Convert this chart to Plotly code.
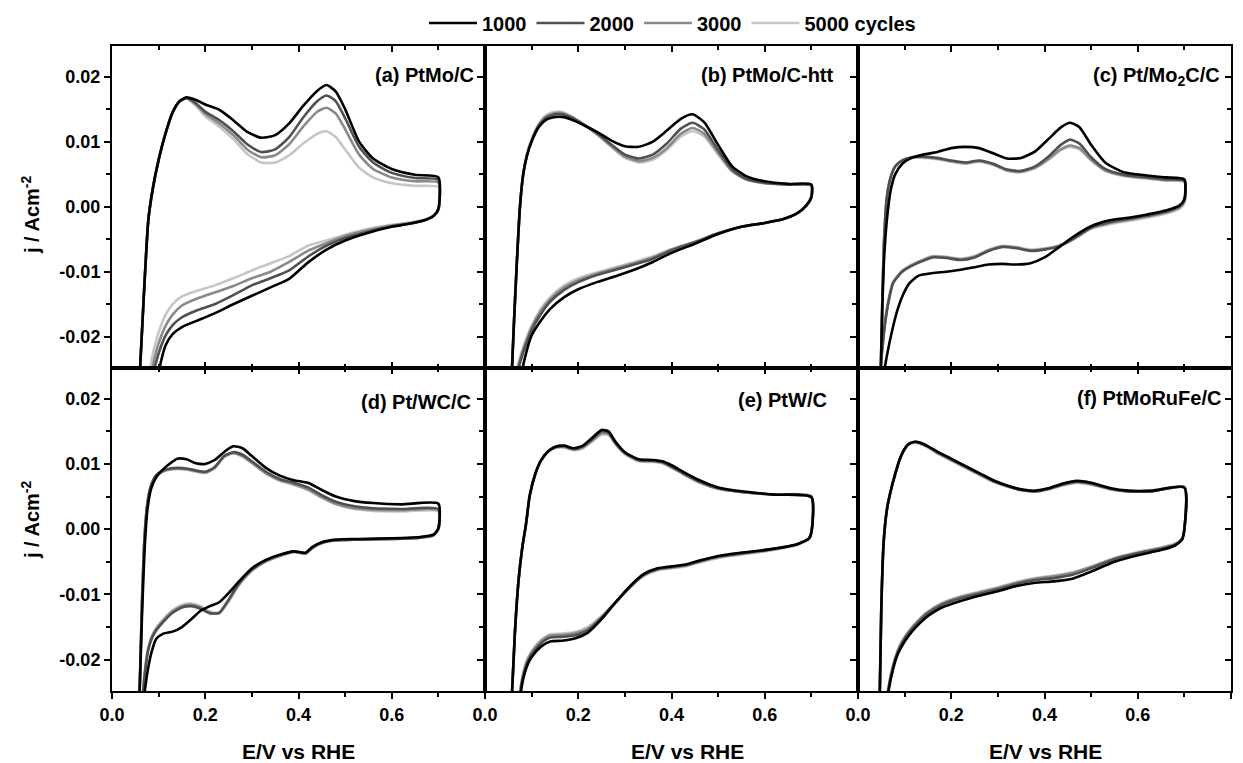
import plotly.graph_objects as go

# ---------------- data (E / V vs RHE, j / A cm^-2) ----------------
CYCLE_NAMES = ["1000", "2000", "3000", "5000 cycles"]
PANEL_LABELS = ["(a) PtMo/C", "(b) PtMo/C-htt", "(c) Pt/Mo<sub>2</sub>C/C",
                "(d) Pt/WC/C", "(e) PtW/C", "(f) PtMoRuFe/C"]
X_TICKS = [0.0, 0.2, 0.4, 0.6, 0.8]
X_TICKTEXT = ["0.0", "0.2", "0.4", "0.6", "0.8"]
X_MINOR = [0.1, 0.3, 0.5, 0.7]
Y_TICKS = [-0.02, -0.01, 0.0, 0.01, 0.02]
Y_TICKTEXT = ["-0.02", "-0.01", "0.00", "0.01", "0.02"]
Y_MINOR = [-0.015, -0.005, 0.005, 0.015]

# (a) PtMo/C
a_an_E = [0.058, 0.068, 0.078, 0.088, 0.10, 0.115, 0.13, 0.145, 0.16, 0.18, 0.20, 0.23, 0.26, 0.29,
          0.32, 0.35, 0.38, 0.41, 0.44, 0.46, 0.48, 0.50, 0.53, 0.56, 0.60, 0.65, 0.70]
a_an_1000 = [-0.028, -0.014, -0.002, 0.003, 0.0072, 0.0113, 0.0145, 0.0162, 0.0168, 0.0164, 0.0157, 0.0149,
             0.0133, 0.0115, 0.0106, 0.0110, 0.0128, 0.0155, 0.0178, 0.0187, 0.0177, 0.0150, 0.0100, 0.0074,
             0.0058, 0.0049, 0.0045]
a_an_2000 = [-0.028, -0.014, -0.002, 0.003, 0.0072, 0.0113, 0.0145, 0.0162, 0.0167, 0.0159, 0.0146, 0.0133,
             0.0116, 0.0096, 0.0084, 0.0088, 0.0107, 0.0137, 0.0162, 0.0171, 0.0162, 0.0136, 0.0092, 0.0068,
             0.0052, 0.0044, 0.0041]
a_an_3000 = [-0.028, -0.014, -0.002, 0.003, 0.0072, 0.0113, 0.0145, 0.0162, 0.0167, 0.0157, 0.0143, 0.0128,
             0.0110, 0.0088, 0.0076, 0.0079, 0.0096, 0.0123, 0.0146, 0.0152, 0.0143, 0.0119, 0.0080, 0.0058,
             0.0045, 0.0039, 0.0037]
a_an_5000 = [-0.028, -0.014, -0.002, 0.003, 0.0072, 0.0113, 0.0145, 0.0162, 0.0166, 0.0155, 0.0139, 0.0123,
             0.0104, 0.0081, 0.0068, 0.0068, 0.0079, 0.0097, 0.0112, 0.0116, 0.0107, 0.0088, 0.0060, 0.0045,
             0.0036, 0.0032, 0.0030]
a_ca_E = [0.70, 0.69, 0.67, 0.64, 0.60, 0.55, 0.50, 0.46, 0.42, 0.38, 0.34, 0.30, 0.26, 0.22, 0.18, 0.15,
          0.13, 0.115, 0.105, 0.095, 0.085, 0.075]
a_ca_1000 = [-0.0003, -0.0014, -0.0021, -0.0026, -0.0031, -0.0040, -0.0052, -0.0066, -0.0086, -0.0111, -0.0124,
             -0.0137, -0.0150, -0.0164, -0.0176, -0.0185, -0.0196, -0.0213, -0.0238, -0.0275, -0.031, -0.034]
a_ca_2000 = [-0.0004, -0.0014, -0.0021, -0.0026, -0.0030, -0.0038, -0.0048, -0.0060, -0.0077, -0.0098, -0.0110,
             -0.0121, -0.0136, -0.0150, -0.0160, -0.0170, -0.0182, -0.0198, -0.0215, -0.0238, -0.027, -0.032]
a_ca_3000 = [-0.0005, -0.0014, -0.0021, -0.0025, -0.0029, -0.0036, -0.0045, -0.0056, -0.0068, -0.0085, -0.0100,
             -0.0110, -0.0122, -0.0132, -0.0142, -0.0152, -0.0166, -0.0183, -0.0200, -0.0222, -0.0255, -0.031]
a_ca_5000 = [-0.0006, -0.0014, -0.0020, -0.0024, -0.0028, -0.0034, -0.0043, -0.0052, -0.0060, -0.0076, -0.0087,
             -0.0098, -0.0110, -0.0121, -0.0130, -0.0138, -0.0150, -0.0166, -0.0183, -0.0205, -0.0235, -0.029]

# (b) PtMo/C-htt
b_an_E = [0.056, 0.062, 0.068, 0.075, 0.082, 0.09, 0.10, 0.115, 0.13, 0.145, 0.165, 0.185, 0.21, 0.24,
          0.27, 0.30, 0.33, 0.36, 0.39, 0.42, 0.445, 0.47, 0.50, 0.53, 0.56, 0.60, 0.65, 0.70]
b_an_1000 = [-0.028, -0.018, -0.009, 0.0, 0.005, 0.0078, 0.0100, 0.0122, 0.0133, 0.0137, 0.0138, 0.0134, 0.0126,
             0.0115, 0.0102, 0.0093, 0.0092, 0.0100, 0.0117, 0.0135, 0.0142, 0.0130, 0.0095, 0.0062, 0.0047,
             0.0039, 0.0035, 0.0034]
b_an_2000 = [-0.028, -0.018, -0.009, 0.0, 0.005, 0.0079, 0.0101, 0.0124, 0.0136, 0.0141, 0.0142, 0.0137, 0.0127,
             0.0113, 0.0096, 0.0080, 0.0074, 0.0080, 0.0097, 0.0120, 0.0129, 0.0119, 0.0087, 0.0057, 0.0043,
             0.0037, 0.0034, 0.0033]
b_an_3000 = [-0.028, -0.018, -0.009, 0.0, 0.005, 0.0080, 0.0102, 0.0125, 0.0138, 0.0143, 0.0144, 0.0138, 0.0127,
             0.0112, 0.0094, 0.0077, 0.0070, 0.0075, 0.0090, 0.0112, 0.0121, 0.0112, 0.0083, 0.0055, 0.0042,
             0.0036, 0.0034, 0.0033]
b_an_5000 = [-0.028, -0.018, -0.009, 0.0, 0.005, 0.0081, 0.0104, 0.0127, 0.0140, 0.0145, 0.0146, 0.0139, 0.0127,
             0.0111, 0.0092, 0.0075, 0.0068, 0.0072, 0.0087, 0.0108, 0.0116, 0.0108, 0.0080, 0.0054, 0.0042,
             0.0036, 0.0034, 0.0033]
b_ca_E = [0.70, 0.69, 0.67, 0.64, 0.60, 0.55, 0.50, 0.45, 0.40, 0.36, 0.32, 0.28, 0.24, 0.20, 0.17, 0.14,
          0.12, 0.10, 0.09, 0.08, 0.07, 0.06]
b_ca_1000 = [0.0015, 0.0003, -0.0010, -0.0019, -0.0025, -0.0031, -0.0042, -0.0057, -0.0071, -0.0085, -0.0097,
             -0.0107, -0.0116, -0.0127, -0.0139, -0.0157, -0.0175, -0.0198, -0.0220, -0.0250, -0.029, -0.033]
b_ca_2000 = [0.0014, 0.0002, -0.0010, -0.0019, -0.0025, -0.0031, -0.0041, -0.0055, -0.0067, -0.0080, -0.0089,
             -0.0097, -0.0105, -0.0116, -0.0128, -0.0146, -0.0165, -0.0190, -0.0208, -0.0228, -0.0255, -0.031]
b_ca_3000 = [0.0014, 0.0002, -0.0010, -0.0019, -0.0025, -0.0031, -0.0041, -0.0054, -0.0066, -0.0078, -0.0087,
             -0.0095, -0.0103, -0.0113, -0.0124, -0.0142, -0.0160, -0.0186, -0.0204, -0.0224, -0.0250, -0.030]
b_ca_5000 = [0.0014, 0.0002, -0.0010, -0.0019, -0.0025, -0.0031, -0.0041, -0.0054, -0.0065, -0.0076, -0.0085,
             -0.0093, -0.0101, -0.0110, -0.0121, -0.0139, -0.0157, -0.0183, -0.0200, -0.0220, -0.0245, -0.030]

# (c) Pt/Mo2C/C
c_an_E = [0.048, 0.052, 0.056, 0.062, 0.07, 0.08, 0.095, 0.115, 0.14, 0.17, 0.20, 0.23, 0.26, 0.29, 0.32,
          0.35, 0.38, 0.41, 0.435, 0.455, 0.475, 0.50, 0.53, 0.57, 0.62, 0.66, 0.70]
c_an_1000 = [-0.028, -0.016, -0.008, -0.002, 0.0025, 0.0050, 0.0066, 0.0075, 0.0080, 0.0084, 0.0090, 0.0092,
             0.0090, 0.0082, 0.0074, 0.0075, 0.0085, 0.0105, 0.0122, 0.0129, 0.0122, 0.0095, 0.0068, 0.0053,
             0.0048, 0.0045, 0.0042]
c_an_2000 = [-0.028, -0.015, -0.005, 0.0015, 0.0045, 0.0062, 0.0071, 0.0076, 0.0077, 0.0075, 0.0071, 0.0068,
             0.0071, 0.0066, 0.0057, 0.0055, 0.0062, 0.0078, 0.0095, 0.0103, 0.0097, 0.0076, 0.0058, 0.0049,
             0.0045, 0.0042, 0.0040]
c_an_3000 = [-0.028, -0.015, -0.005, 0.0015, 0.0045, 0.0062, 0.0071, 0.0076, 0.0076, 0.0074, 0.0070, 0.0067,
             0.0070, 0.0065, 0.0056, 0.0054, 0.0060, 0.0074, 0.0088, 0.0094, 0.0090, 0.0072, 0.0056, 0.0048,
             0.0044, 0.0041, 0.0039]
c_an_5000 = [-0.028, -0.015, -0.005, 0.0015, 0.0045, 0.0062, 0.0071, 0.0075, 0.0075, 0.0073, 0.0069, 0.0066,
             0.0069, 0.0064, 0.0055, 0.0053, 0.0059, 0.0073, 0.0087, 0.0092, 0.0088, 0.0071, 0.0055, 0.0047,
             0.0043, 0.0040, 0.0038]
c_ca_E = [0.70, 0.69, 0.66, 0.62, 0.58, 0.54, 0.50, 0.46, 0.43, 0.40, 0.37, 0.34, 0.31, 0.28, 0.25, 0.22,
          0.19, 0.16, 0.13, 0.11, 0.095, 0.085, 0.075, 0.065, 0.058, 0.052, 0.047]
c_ca_1000 = [0.0012, 0.0002, -0.0006, -0.0012, -0.0017, -0.0021, -0.0030, -0.0047, -0.0063, -0.0078, -0.0087,
             -0.0089, -0.0088, -0.0089, -0.0093, -0.0097, -0.0100, -0.0102, -0.0106, -0.0118, -0.0138, -0.0158,
             -0.0185, -0.0218, -0.0245, -0.0275, -0.031]
c_ca_2000 = [0.0010, 0.0001, -0.0008, -0.0014, -0.0019, -0.0024, -0.0032, -0.0050, -0.0061, -0.0066, -0.0068,
             -0.0064, -0.0062, -0.0068, -0.0078, -0.0082, -0.0079, -0.0078, -0.0086, -0.0093, -0.0100, -0.0108,
             -0.0118, -0.0148, -0.0180, -0.0220, -0.026]
c_ca_3000 = [0.0008, -0.0001, -0.0009, -0.0015, -0.0020, -0.0025, -0.0033, -0.0051, -0.0061, -0.0065, -0.0067,
             -0.0063, -0.0061, -0.0067, -0.0077, -0.0081, -0.0078, -0.0077, -0.0085, -0.0092, -0.0099, -0.0107,
             -0.0117, -0.0146, -0.0178, -0.0218, -0.026]
c_ca_5000 = [0.0006, -0.0003, -0.0011, -0.0017, -0.0022, -0.0027, -0.0034, -0.0051, -0.0060, -0.0064, -0.0066,
             -0.0062, -0.0060, -0.0066, -0.0076, -0.0080, -0.0077, -0.0076, -0.0084, -0.0091, -0.0098, -0.0106,
             -0.0116, -0.0144, -0.0176, -0.0216, -0.026]

# (d) Pt/WC/C
d_an_E = [0.058, 0.064, 0.07, 0.076, 0.084, 0.095, 0.11, 0.125, 0.14, 0.16, 0.18, 0.20, 0.22, 0.24, 0.26,
          0.28, 0.30, 0.33, 0.36, 0.39, 0.42, 0.45, 0.48, 0.52, 0.56, 0.62, 0.70]
d_an_1000 = [-0.028, -0.014, -0.003, 0.003, 0.0062, 0.0080, 0.0092, 0.0101, 0.0108, 0.0107, 0.0101, 0.0100,
             0.0106, 0.0118, 0.0127, 0.0124, 0.0112, 0.0094, 0.0082, 0.0075, 0.0071, 0.0060, 0.0050, 0.0043,
             0.0040, 0.0038, 0.0039]
d_an_2000 = [-0.028, -0.012, -0.001, 0.004, 0.0068, 0.0083, 0.0090, 0.0093, 0.0094, 0.0093, 0.0090, 0.0088,
             0.0095, 0.0112, 0.0118, 0.0114, 0.0104, 0.0088, 0.0077, 0.0071, 0.0064, 0.0052, 0.0042, 0.0035,
             0.0032, 0.0031, 0.0031]
d_an_3000 = [-0.028, -0.012, -0.001, 0.004, 0.0067, 0.0082, 0.0089, 0.0092, 0.0093, 0.0092, 0.0089, 0.0087,
             0.0094, 0.0111, 0.0117, 0.0112, 0.0102, 0.0086, 0.0075, 0.0069, 0.0061, 0.0049, 0.0039, 0.0032,
             0.0030, 0.0029, 0.0029]
d_an_5000 = [-0.028, -0.012, -0.001, 0.004, 0.0066, 0.0081, 0.0088, 0.0091, 0.0092, 0.0091, 0.0088, 0.0086,
             0.0093, 0.0110, 0.0116, 0.0111, 0.0101, 0.0085, 0.0074, 0.0068, 0.0060, 0.0048, 0.0038, 0.0031,
             0.0028, 0.0027, 0.0027]
d_ca_E = [0.70, 0.69, 0.66, 0.60, 0.53, 0.48, 0.45, 0.43, 0.415, 0.39, 0.36, 0.33, 0.30, 0.27, 0.25, 0.23,
          0.21, 0.19, 0.17, 0.15, 0.13, 0.11, 0.095, 0.085, 0.077, 0.07, 0.062]
d_ca_1000 = [0.0002, -0.0008, -0.0012, -0.0014, -0.0015, -0.0016, -0.0020, -0.0027, -0.0036, -0.0034, -0.0039,
             -0.0047, -0.0060, -0.0082, -0.0098, -0.0112, -0.0118, -0.0125, -0.0138, -0.0150, -0.0157, -0.0160,
             -0.0168, -0.0188, -0.0215, -0.025, -0.030]
d_ca_2000 = [0.0000, -0.0009, -0.0013, -0.0015, -0.0016, -0.0017, -0.0021, -0.0028, -0.0037, -0.0034, -0.0040,
             -0.0048, -0.0062, -0.0085, -0.0108, -0.0128, -0.0129, -0.0122, -0.0118, -0.0120, -0.0128, -0.0142,
             -0.0155, -0.0168, -0.0188, -0.0225, -0.029]
d_ca_3000 = [0.0000, -0.0009, -0.0013, -0.0015, -0.0016, -0.0017, -0.0021, -0.0029, -0.0037, -0.0035, -0.0041,
             -0.0049, -0.0063, -0.0087, -0.0110, -0.0129, -0.0128, -0.0120, -0.0116, -0.0118, -0.0126, -0.0140,
             -0.0153, -0.0166, -0.0186, -0.0222, -0.029]
d_ca_5000 = [0.0000, -0.0009, -0.0013, -0.0015, -0.0016, -0.0017, -0.0022, -0.0029, -0.0038, -0.0035, -0.0041,
             -0.0050, -0.0064, -0.0088, -0.0111, -0.0128, -0.0126, -0.0118, -0.0114, -0.0116, -0.0124, -0.0138,
             -0.0151, -0.0164, -0.0184, -0.0220, -0.029]

# (e) PtW/C
e_an_E = [0.056, 0.064, 0.072, 0.08, 0.088, 0.096, 0.108, 0.12, 0.135, 0.15, 0.17, 0.19, 0.21, 0.23, 0.25,
          0.265, 0.28, 0.30, 0.33, 0.36, 0.38, 0.40, 0.43, 0.46, 0.50, 0.55, 0.62, 0.70]
e_an_1000 = [-0.028, -0.016, -0.0078, -0.0028, 0.0008, 0.0052, 0.0085, 0.0105, 0.0119, 0.0126, 0.0128, 0.0124,
             0.0128, 0.0140, 0.0152, 0.0150, 0.0134, 0.0118, 0.0107, 0.0106, 0.0104, 0.0098, 0.0086, 0.0075,
             0.0064, 0.0058, 0.0053, 0.0049]
e_an_2000 = [-0.028, -0.016, -0.0078, -0.0028, 0.0008, 0.0052, 0.0085, 0.0105, 0.0119, 0.0126, 0.0127, 0.0123,
             0.0127, 0.0138, 0.0150, 0.0148, 0.0132, 0.0117, 0.0106, 0.0105, 0.0103, 0.0096, 0.0084, 0.0073,
             0.0063, 0.0057, 0.0053, 0.0049]
e_an_3000 = [-0.028, -0.016, -0.0078, -0.0028, 0.0008, 0.0052, 0.0085, 0.0105, 0.0119, 0.0125, 0.0126, 0.0122,
             0.0125, 0.0136, 0.0147, 0.0146, 0.0131, 0.0116, 0.0105, 0.0104, 0.0102, 0.0095, 0.0083, 0.0072,
             0.0062, 0.0057, 0.0053, 0.0050]
e_an_5000 = [-0.028, -0.016, -0.0078, -0.0028, 0.0008, 0.0052, 0.0085, 0.0105, 0.0119, 0.0124, 0.0125, 0.0121,
             0.0124, 0.0134, 0.0145, 0.0144, 0.0130, 0.0115, 0.0104, 0.0103, 0.0101, 0.0094, 0.0082, 0.0071,
             0.0062, 0.0057, 0.0053, 0.0051]
e_ca_E = [0.70, 0.695, 0.67, 0.61, 0.55, 0.50, 0.46, 0.43, 0.40, 0.37, 0.34, 0.31, 0.28, 0.25, 0.22, 0.19,
          0.165, 0.14, 0.12, 0.10, 0.09, 0.08, 0.07]
e_ca_1000 = [-0.0005, -0.0014, -0.0023, -0.0031, -0.0036, -0.0041, -0.0048, -0.0054, -0.0057, -0.0060, -0.0069,
             -0.0088, -0.0112, -0.0138, -0.0159, -0.0168, -0.0171, -0.0172, -0.0180, -0.0196, -0.0210, -0.0236,
             -0.029]
e_ca_2000 = [-0.0005, -0.0014, -0.0023, -0.0031, -0.0037, -0.0042, -0.0049, -0.0055, -0.0058, -0.0061, -0.0070,
             -0.0089, -0.0112, -0.0136, -0.0155, -0.0163, -0.0165, -0.0166, -0.0175, -0.0192, -0.0206, -0.0232,
             -0.028]
e_ca_3000 = [-0.0005, -0.0014, -0.0023, -0.0032, -0.0038, -0.0043, -0.0050, -0.0056, -0.0059, -0.0062, -0.0071,
             -0.0090, -0.0113, -0.0135, -0.0153, -0.0160, -0.0162, -0.0163, -0.0172, -0.0189, -0.0203, -0.0229,
             -0.028]
e_ca_5000 = [-0.0005, -0.0015, -0.0024, -0.0033, -0.0039, -0.0044, -0.0051, -0.0057, -0.0060, -0.0063, -0.0072,
             -0.0090, -0.0112, -0.0133, -0.0150, -0.0158, -0.0160, -0.0161, -0.0170, -0.0187, -0.0200, -0.0226,
             -0.0275]

# (f) PtMoRuFe/C
f_an_E = [0.046, 0.05, 0.055, 0.062, 0.07, 0.08, 0.09, 0.10, 0.11, 0.122, 0.135, 0.15, 0.17, 0.20, 0.23,
          0.26, 0.29, 0.32, 0.35, 0.38, 0.41, 0.44, 0.47, 0.50, 0.54, 0.58, 0.63, 0.70]
f_an_1000 = [-0.028, -0.012, -0.002, 0.003, 0.0058, 0.0085, 0.0108, 0.0123, 0.0131, 0.0134, 0.0132, 0.0127,
             0.0119, 0.0108, 0.0097, 0.0086, 0.0075, 0.0067, 0.0061, 0.0059, 0.0063, 0.0070, 0.0074, 0.0071,
             0.0063, 0.0059, 0.0059, 0.0064]
f_an_2000 = [-0.028, -0.012, -0.002, 0.003, 0.0058, 0.0085, 0.0108, 0.0123, 0.0131, 0.0134, 0.0132, 0.0127,
             0.0118, 0.0107, 0.0096, 0.0085, 0.0074, 0.0066, 0.0060, 0.0058, 0.0062, 0.0069, 0.0073, 0.0070,
             0.0062, 0.0058, 0.0058, 0.0064]
f_an_3000 = [-0.028, -0.012, -0.002, 0.003, 0.0058, 0.0085, 0.0108, 0.0123, 0.0131, 0.0133, 0.0131, 0.0126,
             0.0117, 0.0106, 0.0095, 0.0084, 0.0073, 0.0066, 0.0060, 0.0058, 0.0062, 0.0068, 0.0072, 0.0069,
             0.0062, 0.0058, 0.0058, 0.0064]
f_an_5000 = [-0.028, -0.012, -0.002, 0.003, 0.0058, 0.0085, 0.0108, 0.0123, 0.0131, 0.0132, 0.0130, 0.0125,
             0.0116, 0.0105, 0.0094, 0.0083, 0.0073, 0.0065, 0.0060, 0.0058, 0.0061, 0.0067, 0.0071, 0.0068,
             0.0061, 0.0058, 0.0058, 0.0065]
f_ca_E = [0.70, 0.695, 0.68, 0.65, 0.60, 0.55, 0.50, 0.46, 0.42, 0.38, 0.34, 0.30, 0.26, 0.22, 0.18, 0.15,
          0.13, 0.11, 0.095, 0.085, 0.075, 0.065, 0.058]
f_ca_1000 = [0.0, -0.0016, -0.0025, -0.0032, -0.0040, -0.0050, -0.0065, -0.0076, -0.0080, -0.0082, -0.0087,
             -0.0095, -0.0102, -0.0110, -0.0120, -0.0133, -0.0146, -0.0162, -0.0178, -0.0192, -0.0215, -0.025,
             -0.029]
f_ca_2000 = [0.0, -0.0015, -0.0024, -0.0030, -0.0037, -0.0046, -0.0060, -0.0070, -0.0075, -0.0078, -0.0084,
             -0.0092, -0.0099, -0.0106, -0.0116, -0.0129, -0.0142, -0.0158, -0.0174, -0.0189, -0.0212, -0.0247,
             -0.029]
f_ca_3000 = [0.0, -0.0015, -0.0023, -0.0029, -0.0036, -0.0045, -0.0058, -0.0067, -0.0072, -0.0076, -0.0082,
             -0.0090, -0.0097, -0.0104, -0.0114, -0.0127, -0.0140, -0.0156, -0.0172, -0.0187, -0.021, -0.0245,
             -0.029]
f_ca_5000 = [0.0, -0.0014, -0.0022, -0.0028, -0.0035, -0.0044, -0.0057, -0.0066, -0.0071, -0.0075, -0.0081,
             -0.0089, -0.0096, -0.0103, -0.0113, -0.0126, -0.0139, -0.0155, -0.0171, -0.0186, -0.0208, -0.0243,
             -0.029]

# ---------------- styling ----------------
W, H = 1243, 763
FONT = "Liberation Sans, Arial, sans-serif"
COLORS = ["#000000", "#505050", "#8a8a8a", "#c6c6c6"]
LINE_W = 2.6

def px(x):
    return x / W

def py(y):
    return 1 - y / H

XD = [[px(112), px(485)], [px(485), px(858)], [px(858), px(1231)]]
YD = [[py(368), py(46)], [py(691), py(368)]]

panels = [
    (a_an_E, [a_an_1000, a_an_2000, a_an_3000, a_an_5000], a_ca_E, [a_ca_1000, a_ca_2000, a_ca_3000, a_ca_5000]),
    (b_an_E, [b_an_1000, b_an_2000, b_an_3000, b_an_5000], b_ca_E, [b_ca_1000, b_ca_2000, b_ca_3000, b_ca_5000]),
    (c_an_E, [c_an_1000, c_an_2000, c_an_3000, c_an_5000], c_ca_E, [c_ca_1000, c_ca_2000, c_ca_3000, c_ca_5000]),
    (d_an_E, [d_an_1000, d_an_2000, d_an_3000, d_an_5000], d_ca_E, [d_ca_1000, d_ca_2000, d_ca_3000, d_ca_5000]),
    (e_an_E, [e_an_1000, e_an_2000, e_an_3000, e_an_5000], e_ca_E, [e_ca_1000, e_ca_2000, e_ca_3000, e_ca_5000]),
    (f_an_E, [f_an_1000, f_an_2000, f_an_3000, f_an_5000], f_ca_E, [f_ca_1000, f_ca_2000, f_ca_3000, f_ca_5000]),
]

def ax(n, letter):
    return letter if n == 1 else f"{letter}{n}"

fig = go.Figure()
for p, (anE, anJ, caE, caJ) in enumerate(panels):
    i = p + 1
    for k in reversed(range(4)):
        fig.add_trace(go.Scatter(
            x=anE + caE, y=anJ[k] + caJ[k], mode="lines",
            line=dict(color=COLORS[k], width=LINE_W, shape="spline", smoothing=0.6),
            name=CYCLE_NAMES[k], legendgroup=CYCLE_NAMES[k], legendrank=k + 1,
            showlegend=(p == 0), hoverinfo="skip",
            xaxis=ax(i, "x"), yaxis=ax(i, "y")))
    # invisible helpers so the mirrored (top / right) tick axes are drawn
    fig.add_trace(go.Scatter(x=[0.4], y=[0], mode="markers", marker=dict(opacity=0),
                             showlegend=False, hoverinfo="skip",
                             xaxis=ax(i + 6, "x"), yaxis=ax(i, "y")))
    fig.add_trace(go.Scatter(x=[0.4], y=[0], mode="markers", marker=dict(opacity=0),
                             showlegend=False, hoverinfo="skip",
                             xaxis=ax(i, "x"), yaxis=ax(i + 6, "y")))

tickfont = dict(family=FONT, size=18, color="black", weight="bold")
layout = dict(
    width=W, height=H, autosize=False,
    margin=dict(l=0, r=0, t=0, b=0, autoexpand=False),
    paper_bgcolor="white", plot_bgcolor="white",
    showlegend=True,
    legend=dict(orientation="h", x=px(424), xanchor="left", y=py(23), yanchor="middle",
                font=dict(family=FONT, size=20, color="black", weight="bold"),
                bgcolor="rgba(0,0,0,0)", traceorder="normal", itemwidth=48),
)

XR = [0, 0.8]
YR = [-0.0248, 0.0247]
for p in range(6):
    i = p + 1
    col, row = p % 3, p // 3
    bottom_row = row == 1
    left_col = col == 0
    # label positions: last column shows 0.8, others stop at 0.6 (next panel's 0.0 sits there)
    n_lab = 5 if col == 2 else 4
    common_x = dict(range=XR, domain=XD[col], showgrid=False, zeroline=False, automargin=False,
                    tickmode="array", ticklen=6, tickwidth=2, tickcolor="black")
    common_y = dict(range=YR, domain=YD[row], showgrid=False, zeroline=False, automargin=False,
                    tickmode="array", tickvals=Y_TICKS, ticklen=6, tickwidth=2, tickcolor="black")
    xminor = dict(tickvals=X_MINOR, ticklen=4, tickwidth=2, tickcolor="black")
    yminor = dict(tickvals=Y_MINOR, ticklen=4, tickwidth=2, tickcolor="black")
    xticks = "outside" if bottom_row else "inside"
    layout[f"xaxis{i if i > 1 else ''}"] = dict(
        common_x, anchor=ax(i, "y"), ticks=xticks,
        tickvals=X_TICKS[:n_lab] if bottom_row else X_TICKS,
        ticktext=X_TICKTEXT[:n_lab] if bottom_row else X_TICKTEXT,
        showticklabels=bottom_row,
        tickfont=tickfont, showline=True, linewidth=2, linecolor="black", mirror=True,
        minor=dict(xminor, ticks=xticks))
    layout[f"yaxis{i if i > 1 else ''}"] = dict(
        common_y, anchor=ax(i, "x"), ticks="outside", ticktext=Y_TICKTEXT, showticklabels=left_col,
        tickfont=tickfont, showline=True, linewidth=2, linecolor="black", mirror=True,
        minor=dict(yminor, ticks="outside"))
    layout[f"xaxis{i + 6}"] = dict(
        common_x, tickvals=X_TICKS, overlaying=ax(i, "x"), anchor=ax(i, "y"), side="top",
        ticks="inside", showticklabels=False, showline=False, minor=dict(xminor, ticks="inside"))
    layout[f"yaxis{i + 6}"] = dict(
        common_y, overlaying=ax(i, "y"), anchor=ax(i, "x"), side="right", ticks="inside",
        showticklabels=False, showline=False, minor=dict(yminor, ticks="inside"))

fig.update_layout(**layout)

# panel labels
label_pos = [(476, 75), (836, 75), (1222, 76), (473, 402), (829, 400), (1223, 398)]
for lab, (lx, ly) in zip(PANEL_LABELS, label_pos):
    fig.add_annotation(text=f"<b>{lab}</b>", xref="paper", yref="paper", x=px(lx), y=py(ly),
                       xanchor="right", yanchor="middle", showarrow=False,
                       font=dict(family=FONT, size=20, color="black"))

# axis titles
for cx in [298, 687, 1045]:
    fig.add_annotation(text="<b>E/V vs RHE</b>", xref="paper", yref="paper", x=px(cx), y=py(751),
                       xanchor="center", yanchor="middle", showarrow=False,
                       font=dict(family=FONT, size=21, color="black"))
for cy in [215, 520]:
    fig.add_annotation(text="<b>j / Acm<sup>-2</sup></b>", xref="paper", yref="paper", x=px(30), y=py(cy),
                       xanchor="center", yanchor="middle", textangle=-90, showarrow=False,
                       font=dict(family=FONT, size=20, color="black"))

fig.write_html("out.html")
